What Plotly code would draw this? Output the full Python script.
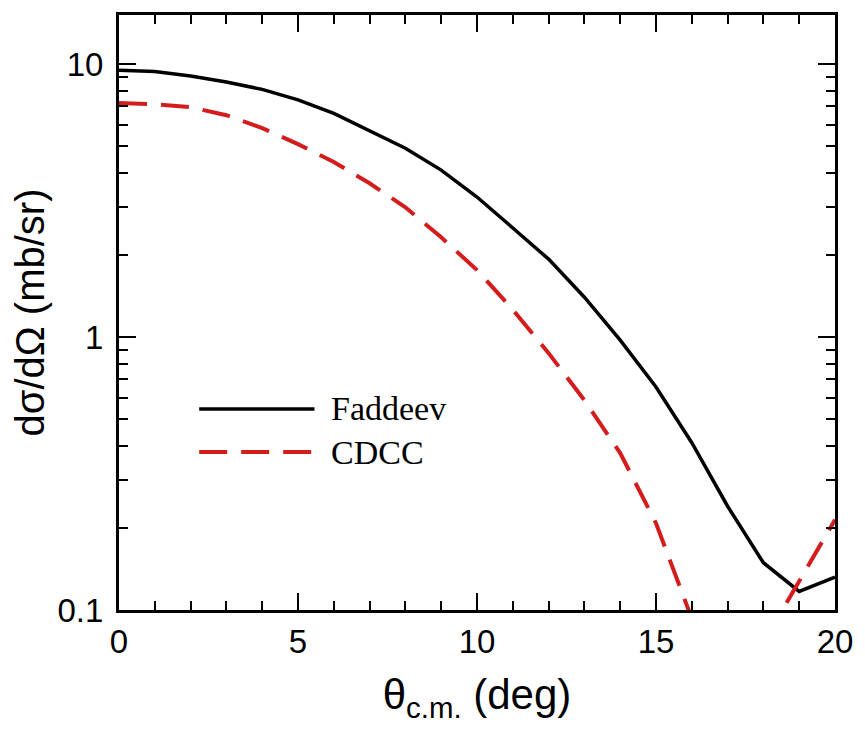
import plotly.graph_objects as go

theta = list(range(0, 21))
faddeev = [9.5, 9.4, 9.04, 8.6, 8.08, 7.4, 6.6, 5.72, 4.92, 4.09, 3.26,
           2.51, 1.93, 1.40, 0.975, 0.656, 0.41, 0.24, 0.149, 0.117, 0.132]
cdcc = [7.2, 7.13, 6.95, 6.5, 5.83, 5.09, 4.38, 3.66, 2.99, 2.32, 1.76,
        1.26, 0.873, 0.587, 0.376, 0.208, 0.093, 0.05, 0.076, 0.128, 0.214]

ytick_vals = [0.1, 1, 10]
ytick_text = ["0.1", "1", "10"]
y_minor = [m * d for d in (0.1, 1, 10) for m in range(2, 10)]

series_names = ["Faddeev", "CDCC"]
black = "#000000"
red = "#d41c1c"

fig = go.Figure()
fig.add_trace(go.Scatter(x=theta, y=faddeev, mode="lines", name=series_names[0],
                         line=dict(color=black, width=3.5), showlegend=False))
fig.add_trace(go.Scatter(x=theta, y=cdcc, mode="lines", name=series_names[1],
                         line=dict(color=red, width=4, dash="28px,14px"), showlegend=False))

# legend drawn as shapes + text
lx0, lx1 = 0.112, 0.273
ly = [0.338, 0.2655]
fig.add_shape(type="line", xref="paper", yref="paper", x0=lx0, x1=lx1, y0=ly[0], y1=ly[0],
              line=dict(color=black, width=3.5))
fig.add_shape(type="line", xref="paper", yref="paper", x0=lx0, x1=lx1, y0=ly[1], y1=ly[1],
              line=dict(color=red, width=4, dash="28px,14px"))
for name, yy in zip(series_names, ly):
    fig.add_annotation(xref="paper", yref="paper", x=0.293, y=yy, text=name, showarrow=False,
                       xanchor="left", yanchor="middle",
                       font=dict(family="Liberation Serif", size=34, color="black"))

axis_font = dict(family="Liberation Sans", size=33, color="black")
fig.update_xaxes(range=[0, 20], tickvals=[0, 5, 10, 15, 20], ticks="inside", ticklen=17,
                 tickwidth=1.5, tickcolor="black", showline=True, linewidth=3, linecolor="black",
                 mirror="ticks", showgrid=False, zeroline=False, tickfont=axis_font,
                 minor=dict(dtick=1, tick0=0, ticks="inside", ticklen=9, tickwidth=1.5,
                            tickcolor="black", showgrid=False),
                 title=dict(text="θ<sub>c.m.</sub> (deg)",
                            font=dict(family="Liberation Sans", size=42, color="black"),
                            standoff=22))
fig.update_yaxes(type="log", range=[-1, 1.18], tickvals=ytick_vals, ticktext=ytick_text,
                 ticks="inside", ticklen=17, tickwidth=1.5, tickcolor="black",
                 showline=True, linewidth=3, linecolor="black", mirror="ticks",
                 showgrid=False, zeroline=False, tickfont=axis_font, ticklabelstandoff=6,
                 minor=dict(tickvals=y_minor, ticks="inside", ticklen=9, tickwidth=1.5,
                            tickcolor="black", showgrid=False),
                 title=dict(text="dσ/dΩ (mb/sr)",
                            font=dict(family="Liberation Sans", size=40, color="black"),
                            standoff=1))
fig.update_layout(width=865, height=729, margin=dict(l=119, r=24, t=15, b=119),
                  plot_bgcolor="white", paper_bgcolor="white", showlegend=False)
fig.write_html("out.html")
